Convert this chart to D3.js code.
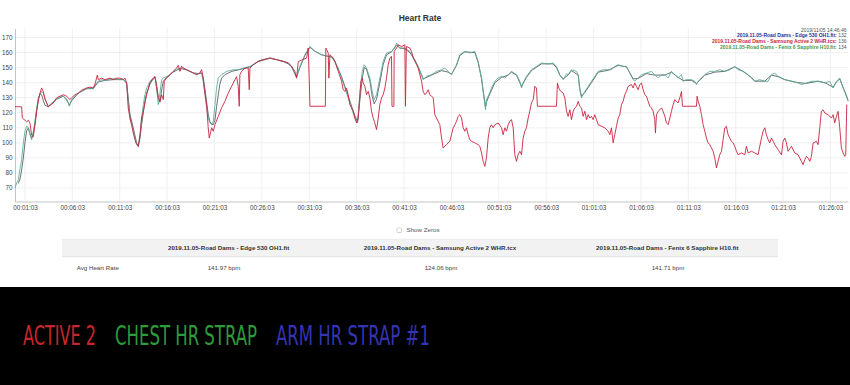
<!DOCTYPE html>
<html>
<head>
<meta charset="utf-8">
<script src="https://cdn.jsdelivr.net/npm/d3@7"></script>
<style>
  html, body { margin: 0; padding: 0; background: #fff; }
  svg { display: block; font-family: "Liberation Sans", Arial, sans-serif; }
</style>
</head>
<body>
<svg id="chart" width="850" height="385"></svg>
<script>
// file names / stats shown in legend + table
const fileNames = [
  "2019.11.05-Road Dams - Edge 530 OH1.fit",
  "2019.11.05-Road Dams - Samsung Active 2 WHR.tcx",
  "2019.11.05-Road Dams - Fenix 6 Sapphire H10.fit"
];
const lastHr = [132, 136, 134];
const avgHr = ["141.97 bpm", "124.06 bpm", "141.71 bpm"];
const stamp = "2019/11/05 14:46:46";

const yTicks = [70, 80, 90, 100, 110, 120, 130, 140, 150, 160, 170];
const xTickLabels = ["00:01:03", "00:06:03", "00:11:03", "00:16:03", "00:21:03", "00:26:03",
  "00:31:03", "00:36:03", "00:41:03", "00:46:03", "00:51:03", "00:56:03", "01:01:03",
  "01:06:03", "01:11:03", "01:16:03", "01:21:03", "01:26:03"];

const captions = ["ACTIVE 2", "CHEST HR STRAP", "ARM HR STRAP #1"];

// [elapsed minutes, bpm]
const samsungHr = [
  [0,124],[0.70,124],[0.77,116.5],[1.05,115],[1.23,114],[1.41,115],[1.58,113],[1.76,105],[1.93,104],
  [2.11,112],[2.29,121],[2.46,128],[2.64,133],[2.81,136.5],[2.99,134],[3.16,129],[3.34,126.5],[3.52,124],
  [3.69,125],[4.04,126.5],[4.40,130],[4.75,131],[5.10,132],[5.45,131],[5.80,128.7],[5.98,130],[6.33,132],
  [6.68,133],[7.03,135],[7.56,136.5],[7.91,137],[8.26,136.5],[8.44,139],[8.69,145],[8.79,142],[9.14,143],
  [9.49,142],[10.02,143],[10.37,142],[10.72,143],[11.08,143],[11.43,142],[11.60,143],[11.78,140],[11.95,123],
  [12.13,116.5],[12.31,112],[12.48,106.5],[12.76,100],[13.01,97.7],[13.19,105],[13.36,116.5],[13.54,121],
  [13.89,132],[14.24,140],[14.59,143],[14.77,144],[14.94,136.5],[15.12,130],[15.30,127.6],[15.47,132],
  [15.65,128.7],[15.75,141],[16.00,143],[16.35,145.3],[16.70,147.5],[17.05,149.7],[17.23,151.5],[17.41,147.5],
  [17.58,151],[17.76,149.7],[18.11,148.6],[18.46,147.5],[18.81,146.4],[19.16,145.3],[19.51,146.4],[19.69,148.6],
  [19.80,145.3],[19.97,136.4],[20.22,125.4],[20.39,110],[20.50,103.2],[20.75,110],[20.92,107.7],[21.10,112],
  [21.45,117.6],[21.80,123.2],[22.15,127.6],[22.50,133],[22.86,137.6],[23.21,142],[23.38,144],[23.56,137.6],
  [23.66,124.3],[23.73,145.3],[23.91,147.5],[24.26,149.7],[24.61,149.7],[24.72,135.3],[24.79,149.7],[25.14,152],
  [25.67,154.2],[26.20,155.3],[26.90,156.4],[27.60,155.3],[28.31,154.2],[28.83,153.1],[29.18,151],[29.53,147.5],
  [29.71,143],[29.89,154],[30.24,155],[30.77,156.4],[30.94,163],[31.05,142],[31.12,124.3],[32.75,124.3],
  [32.80,163],[32.88,162],[33.05,159.7],[33.12,143],[33.23,158.6],[33.58,156.4],[33.75,154.2],[34.11,147.5],
  [34.46,141],[34.63,135.3],[34.81,134.2],[34.98,136.4],[35.16,132],[35.34,125.4],[35.51,123.2],[35.69,121],
  [35.86,116.5],[36.04,113.2],[36.22,116.5],[36.39,132],[36.50,140.9],[36.64,143],[36.74,139.8],[36.92,137.6],
  [37.09,132],[37.27,134.2],[37.45,129.8],[37.62,121],[37.80,116.5],[37.97,113.2],[38.15,108.8],[38.33,116.5],
  [38.50,125.4],[38.68,129.8],[38.85,132],[39.03,136.4],[39.20,143],[39.38,151.9],[39.56,156.4],[39.73,157.5],
  [39.78,124.3],[39.98,124.3],[40.01,160.8],[40.26,163],[40.43,165.2],[40.79,164],[41.14,165.2],[41.20,124.3],
  [41.30,164],[41.67,163],[41.84,160.8],[42.02,156.4],[42.19,154.2],[42.37,152],[42.54,149.7],[42.72,145.3],
  [42.90,141],[43.07,134.2],[43.25,132],[43.42,133.1],[43.60,135.3],[43.77,132],[43.95,131],[44.13,130],
  [44.30,118.7],[44.48,116.5],[44.65,114.3],[44.83,112.1],[45.01,103.2],[45.18,96.6],[45.36,97.7],[45.53,98.8],
  [45.71,100],[45.89,101],[46.06,105.4],[46.24,110],[46.41,112],[46.59,114.3],[46.76,117.6],[46.94,118.7],
  [47.12,116.5],[47.29,110],[47.47,107.7],[47.64,110],[47.82,105.4],[48.00,102],[48.17,101],[48.52,100],
  [48.87,98.8],[49.05,97.7],[49.23,93.3],[49.40,87.7],[49.58,84.4],[49.75,90],[49.93,103.2],[50.10,110],
  [50.28,112],[50.46,110],[50.63,112],[50.98,113.2],[51.34,110],[51.51,105.4],[51.69,110],[51.86,107.7],
  [52.04,112],[52.21,114.3],[52.39,115.4],[52.57,110],[52.74,92.1],[52.92,87.7],[53.09,92.1],[53.27,94.4],
  [53.45,92.1],[53.62,103.2],[53.80,107.7],[53.97,110],[54.15,116.5],[54.32,121],[54.50,126.5],[54.68,128.7],
  [54.85,137.6],[55.03,136.4],[55.13,124.3],[57.14,124.3],[57.24,139.8],[57.38,136.4],[57.59,134.2],[57.84,133.1],
  [58.02,129.8],[58.20,121],[58.37,117.6],[58.55,122],[58.72,115.4],[58.90,121],[59.07,123.2],[59.25,124.3],
  [59.43,127.6],[59.60,124.3],[59.78,123.2],[59.95,117.6],[60.13,121],[60.31,115.4],[60.48,118.7],[60.66,116.5],
  [60.83,117.6],[61.01,115.4],[61.18,118.7],[61.36,115.4],[61.54,112.1],[61.89,111],[62.24,110],[62.59,107.7],
  [62.77,105.4],[62.94,110],[63.12,100],[63.29,105.4],[63.47,111],[63.65,116.5],[63.82,118.7],[64.00,125.4],
  [64.17,127.6],[64.35,132],[64.52,134.2],[64.70,137.6],[65.05,138.7],[65.23,136.4],[65.40,139.8],[65.58,137.6],
  [65.76,135.3],[65.93,138.7],[66.11,139.8],[66.28,135.3],[66.46,132],[66.63,131],[66.81,127.6],[66.99,124.3],
  [67.16,123.2],[67.34,121],[67.51,115.4],[67.58,106.5],[67.69,118.7],[67.87,121],[68.04,122],[68.22,123.2],
  [68.39,121],[68.57,117.6],[68.74,113.2],[68.92,112.1],[69.10,116.5],[69.27,121],[69.45,125.4],[69.62,128.7],
  [69.97,126.5],[70.15,129.8],[70.33,134.2],[70.43,124.3],[71.91,124.3],[71.98,131],[72.08,127.6],[72.26,124.3],
  [72.44,118.7],[72.61,112.1],[72.79,107.7],[72.96,103.2],[73.14,100],[73.31,98.8],[73.49,96.6],[73.67,94.4],
  [73.84,90],[74.02,83.3],[74.19,87.7],[74.37,92.1],[74.55,94.4],[74.72,102.1],[74.90,110],[75.07,111],
  [75.25,105.4],[75.42,103.2],[75.60,101],[75.78,100],[75.95,97.7],[76.13,94.4],[76.30,92.1],[76.66,93.3],
  [77.01,92.1],[77.18,97.7],[77.36,93.3],[77.71,94.4],[78.06,93.3],[78.41,92.1],[78.77,103.2],[78.94,107.7],
  [79.12,110],[79.29,105.4],[79.47,102.1],[79.64,100],[79.82,103.2],[80.00,101],[80.17,98.8],[80.52,95.5],
  [80.88,92.1],[81.05,101],[81.23,103.2],[81.40,100],[81.58,94.4],[81.93,97.7],[82.28,93.3],[82.63,92.1],
  [82.99,87.7],[83.16,85.5],[83.34,88.8],[83.51,91],[83.69,89.9],[83.87,87.7],[84.04,91],[84.22,99.9],
  [84.57,101],[84.74,98.8],[84.92,110],[85.09,120.9],[85.27,122],[85.45,119.8],[85.80,118.7],[86.15,116.5],
  [86.33,118.7],[86.50,113.2],[86.68,117.6],[86.85,120.9],[87.03,110],[87.20,96.6],[87.38,93.3],[87.56,91],
  [87.66,92.1],[87.77,125.4]
];

const fenixHr = [
  [0,70],[0.18,73.3],[0.35,75.5],[0.53,83],[0.70,88.8],[0.88,100],[1.05,107.7],[1.23,111],[1.41,110],
  [1.58,105.4],[1.76,102],[1.93,107.7],[2.11,114.3],[2.29,123.2],[2.46,129.8],[2.64,132],[2.81,134.2],[2.99,133],
  [3.16,129.8],[3.34,126.5],[3.52,124.3],[3.87,126.5],[4.40,129],[4.75,130.5],[5.10,131],[5.45,128],[5.63,126.5],
  [5.73,124.3],[5.98,128.7],[6.33,131],[6.68,133],[7.03,134.5],[7.56,136],[7.91,136.5],[8.26,136],[8.44,138.5],
  [8.79,141],[9.14,142],[9.49,141.5],[10.02,142.5],[10.72,142.5],[11.08,142],[11.43,142.5],[11.78,139],
  [11.95,127.6],[12.13,116.5],[12.48,107.7],[12.83,98.8],[13.01,98.8],[13.19,105.4],[13.36,116.5],[13.54,125.4],
  [13.71,132],[13.89,136.4],[14.24,140.9],[14.59,143.1],[14.77,144.2],[14.94,136.4],[15.12,125.4],[15.30,133.1],
  [15.47,142],[15.65,143.1],[16.00,144],[16.35,145.3],[16.70,147.5],[17.05,149],[17.41,149.5],[17.76,149.7],
  [18.11,148.6],[18.46,147.5],[18.81,146.4],[19.16,145.3],[19.51,146.4],[19.69,146.4],[19.87,140.9],[20.04,132],
  [20.22,123.2],[20.39,116.5],[20.57,113.2],[20.75,112.1],[20.92,114.3],[21.10,125.4],[21.27,136.4],[21.45,143.1],
  [21.80,145.3],[22.33,147.5],[23.03,148.6],[23.56,148.6],[24.09,149.7],[24.79,150.8],[25.14,152],[25.67,154.2],
  [26.20,155.3],[26.90,156.4],[27.60,155.3],[28.31,154.2],[28.83,153.1],[29.18,151],[29.71,143.1],[30.06,150.8],
  [30.59,158.6],[31.12,164.1],[31.64,160.8],[32.35,158.6],[32.88,157.5],[33.40,157.5],[33.75,154.2],[34.11,149.7],
  [34.46,143.1],[34.81,136.4],[35.16,129.8],[35.51,123.2],[35.86,116.5],[36.15,113.2],[36.39,132],[36.64,147.5],
  [36.85,151.9],[37.09,149.7],[37.45,143.1],[37.69,134.2],[37.90,128.7],[38.15,132],[38.50,143.1],[38.85,154.2],
  [39.20,159.7],[39.73,160.8],[40.08,163],[40.26,166.3],[40.61,163],[41.14,163],[41.67,160.8],[42.19,155.3],
  [42.54,150.8],[42.90,145.3],[43.07,142],[43.42,144.2],[43.95,145.3],[44.48,147.5],[45.01,148.6],[45.36,149.7],
  [45.71,147.5],[46.06,145.3],[46.59,151.9],[46.94,158.6],[47.47,160.8],[48.00,159.7],[48.52,160.8],[48.87,154.2],
  [49.23,143.1],[49.40,134.2],[49.51,128.7],[49.65,122],[49.75,128.7],[50.00,132],[50.28,136.4],[50.63,140.9],
  [50.98,143.1],[51.34,144.2],[51.69,143.1],[52.04,145.3],[52.39,147.5],[52.92,145.3],[53.27,140.9],[53.45,136.4],
  [53.62,139.8],[53.97,144.2],[54.50,148.6],[55.03,150.8],[55.55,153.1],[56.26,152.4],[56.79,153.1],[57.14,150.8],
  [57.49,145.3],[57.84,142],[58.20,146],[58.37,145.3],[58.72,148.6],[59.25,147.5],[59.43,145.3],[59.60,135.3],
  [59.78,129.8],[59.95,132],[60.13,134.2],[60.48,137.6],[60.83,140.9],[61.18,144.2],[61.54,147.5],[62.06,148.6],
  [62.59,148.6],[62.94,148.6],[63.29,150.8],[63.65,151.9],[64.17,150.8],[64.52,150.8],[64.88,146.4],[65.23,142],
  [65.40,140.9],[65.76,143.1],[66.11,145.3],[66.63,146.4],[67.16,147.5],[67.51,145.3],[67.87,143.1],[68.22,145.3],
  [68.57,145.3],[68.92,143.1],[69.27,147.5],[69.62,145.3],[69.97,143.1],[70.33,145.3],[70.50,140.9],[70.85,142],
  [71.38,142],[71.73,140.9],[71.91,138.7],[72.08,140.9],[72.44,143.1],[72.79,145.3],[73.31,147.5],[73.84,147.5],
  [74.37,148.6],[74.90,147.5],[75.42,148.6],[75.95,150.8],[76.30,148.6],[76.83,147.5],[77.36,145.3],[77.71,143.1],
  [78.06,140.9],[78.59,142],[79.12,140.9],[79.47,140.9],[79.82,145.3],[80.17,146.4],[80.52,144.2],[80.88,143.1],
  [81.23,142],[81.93,140.9],[82.63,139.8],[82.99,138.7],[83.51,139.8],[84.04,140.9],[84.74,140.9],[85.45,139.8],
  [85.97,140.9],[86.33,136.4],[86.68,140.9],[87.03,143.1],[87.20,139.8],[87.38,136.4],[87.73,132],[87.91,127.6]
];

const edgeHr = [
  [0.35,73],[0.53,76],[0.70,82],[0.88,90],[1.05,100],[1.23,108],[1.41,110],[1.58,106],[1.76,103],[1.93,106],
  [2.11,113],[2.29,122],[2.46,129],[2.64,133],[2.81,132],[2.99,128],[3.16,125],[3.52,124],[3.87,126],[4.40,129],
  [4.75,130],[5.10,131],[5.45,129],[5.73,125],[5.98,128],[6.68,133],[7.56,136],[8.26,136],[8.79,140.5],
  [9.49,141.5],[10.37,142],[11.08,142],[11.43,142],[11.78,140],[11.95,130],[12.13,119],[12.48,110],[12.83,100],
  [13.01,97.5],[13.19,103],[13.36,112],[13.54,120],[13.71,128],[13.89,133],[14.24,139],[14.59,142.5],
  [14.77,143.5],[14.94,139],[15.12,130],[15.30,127],[15.47,135],[15.65,141],[16.00,143.5],[16.70,147],
  [17.41,149.5],[18.11,148.5],[18.81,146.5],[19.51,146],[19.69,146.5],[19.87,143],[20.04,136],[20.22,127],
  [20.39,119],[20.57,114],[20.75,112.5],[20.92,112],[21.10,115],[21.27,124],[21.45,132],[21.62,139],[21.80,143],
  [22.15,145.3],[22.86,147.5],[23.56,148.5],[24.26,149.5],[24.79,150.5],[25.67,154],[26.90,156.2],[27.60,155.3],
  [28.31,154],[28.83,152.5],[29.18,150.5],[29.53,146],[29.71,144],[30.06,150],[30.59,158],[31.12,163.5],
  [31.64,161],[32.35,158.5],[33.40,157],[33.75,154],[34.46,144],[35.16,131],[35.86,118],[36.15,114],[36.39,128],
  [36.64,143],[36.85,150],[37.09,149],[37.45,141],[37.69,131],[37.90,126],[38.15,129],[38.50,140],[38.85,152],
  [39.20,158.5],[39.73,160.5],[40.26,165],[40.61,163],[41.14,162.5],[41.67,160],[42.19,155],[42.54,150.5],
  [42.90,145],[43.07,142.5],[43.95,145],[45.01,148],[45.71,147],[46.06,145.5],[46.59,151.5],[46.94,158],
  [47.47,160.5],[48.52,160],[48.87,153.5],[49.23,142.5],[49.51,130],[49.65,124],[49.75,127],[50.00,131],
  [50.63,140],[51.34,143.5],[52.04,145],[52.39,147],[52.92,145],[53.27,140],[53.45,137.5],[53.97,143.5],
  [54.50,148],[55.55,152.5],[56.79,152.5],[57.14,150],[57.49,145],[57.84,142.5],[58.37,145],[58.72,148],
  [59.43,145],[59.60,136],[59.78,131],[60.13,133.5],[60.83,140],[61.54,147],[62.59,148.2],[63.65,151.5],
  [64.52,150.5],[65.23,142.5],[65.76,142.8],[66.63,146],[67.51,145],[68.57,145],[69.27,147],[69.97,143.5],
  [70.50,141.5],[71.38,141.5],[71.91,139.5],[72.79,145],[73.84,147],[74.90,147.5],[75.95,150.5],[76.83,147.5],
  [77.71,143.5],[78.06,141],[79.12,141],[79.82,145],[80.52,144],[81.23,142],[82.63,140],[83.51,139.5],
  [84.74,141],[85.45,140],[86.33,137],[86.68,140.5],[87.03,142.5],[87.38,137],[87.73,131],[87.91,128]
];

const svg = d3.select("#chart");

const x = d3.scaleLinear().domain([0, 87.9]).range([15, 848]);
const y = d3.scaleLinear().domain([61, 176]).range([201.5, 28.5]);

// "hh:mm:ss" -> minutes
function toMin(s) {
  const p = s.split(":").map(Number);
  return p[0] * 60 + p[1] + p[2] / 60;
}
const xTickMin = xTickLabels.map(toMin);

// grid
const grid = svg.append("g").attr("stroke", "#ececec").attr("stroke-width", 0.8);
grid.selectAll(".h").data(yTicks).enter().append("line")
  .attr("x1", 15).attr("x2", 848)
  .attr("y1", d => y(d)).attr("y2", d => y(d));
grid.selectAll(".v").data(xTickMin).enter().append("line")
  .attr("x1", d => x(d)).attr("x2", d => x(d))
  .attr("y1", 28.5).attr("y2", 201.5);

// axes
const yAxis = svg.append("g")
  .attr("transform", "translate(15,0)")
  .call(d3.axisLeft(y).tickValues(yTicks).tickSize(0).tickPadding(2.5).tickSizeOuter(0));
const xAxis = svg.append("g")
  .attr("transform", "translate(0,201.5)")
  .call(d3.axisBottom(x).tickValues(xTickMin).tickFormat((d, i) => xTickLabels[i])
    .tickSize(0).tickPadding(4).tickSizeOuter(0));
[yAxis, xAxis].forEach(a => {
  a.select(".domain").attr("stroke", "#c4c4c4");
  a.selectAll("text").attr("fill", "#444").style("font-size", "6.3px")
    .style("font-family", "'Liberation Sans', Arial, sans-serif");
});

// lines (edge underneath, chest strap over it, samsung on top)
const line = d3.line().x(d => x(d[0])).y(d => y(d[1]));
svg.append("path").datum(edgeHr)
  .attr("fill", "none").attr("stroke", "#2a3344").attr("stroke-opacity", 0.7).attr("stroke-width", 1)
  .attr("stroke-linejoin", "round").attr("d", line);
svg.append("path").datum(fenixHr)
  .attr("fill", "none").attr("stroke", "#5aab8e").attr("stroke-opacity", 0.85).attr("stroke-width", 1)
  .attr("stroke-linejoin", "round").attr("d", line);
svg.append("path").datum(samsungHr)
  .attr("fill", "none").attr("stroke", "#c9243f").attr("stroke-width", 0.9)
  .attr("stroke-linejoin", "round").attr("d", line);

// title
svg.append("text").attr("x", 420).attr("y", 21).attr("text-anchor", "middle")
  .attr("font-size", 8.5).attr("font-weight", "bold").attr("fill", "#333").text("Heart Rate");

// legend, top right
const legendColors = ["#2b2f8f", "#c9243f", "#3e9a55"];
svg.append("text").attr("x", 846.5).attr("y", 31.5).attr("text-anchor", "end")
  .attr("font-size", 5).attr("fill", "#555").text(stamp);
const leg = svg.append("g").selectAll("text").data(fileNames).enter().append("text")
  .attr("x", 846.5).attr("y", (d, i) => 37.2 + i * 5.8).attr("text-anchor", "end")
  .attr("font-size", 5);
leg.append("tspan").attr("font-weight", "bold").attr("fill", (d, i) => legendColors[i]).text(d => d + ":");
leg.append("tspan").attr("fill", "#555").text((d, i) => " " + lastHr[i]);

// show zeros checkbox
svg.append("rect").attr("x", 397).attr("y", 228).attr("width", 4.5).attr("height", 4.5)
  .attr("rx", 0.8).attr("fill", "#fff").attr("stroke", "#aaa").attr("stroke-width", 0.5);
svg.append("text").attr("x", 406.5).attr("y", 232.3).attr("font-size", 6.2).attr("fill", "#555")
  .text("Show Zeros");

// stats table
const colCenters = [228.7, 440, 667.3];
const valCenters = [224, 441, 668];
svg.append("rect").attr("x", 62).attr("y", 239.3).attr("width", 716).attr("height", 17.4).attr("fill", "#f2f2f2");
svg.append("line").attr("x1", 62).attr("x2", 778).attr("y1", 239.3).attr("y2", 239.3).attr("stroke", "#e4e4e4").attr("stroke-width", 0.6);
svg.append("line").attr("x1", 62).attr("x2", 778).attr("y1", 256.7).attr("y2", 256.7).attr("stroke", "#dcdcdc").attr("stroke-width", 0.8);
svg.append("g").selectAll("text").data(fileNames).enter().append("text")
  .attr("x", (d, i) => colCenters[i]).attr("y", 250).attr("text-anchor", "middle")
  .attr("font-size", 6.2).attr("font-weight", "bold").attr("fill", "#333").text(d => d);
svg.append("text").attr("x", 76.7).attr("y", 269.5).attr("font-size", 6.2).attr("fill", "#444").text("Avg Heart Rate");
svg.append("g").selectAll("text").data(avgHr).enter().append("text")
  .attr("x", (d, i) => valCenters[i]).attr("y", 269.5).attr("text-anchor", "middle")
  .attr("font-size", 6.2).attr("fill", "#444").text(d => d);

// black caption band
svg.append("rect").attr("x", 0).attr("y", 287).attr("width", 850).attr("height", 98).attr("fill", "#000");
const capX = [23, 115, 276];
const capW = [73, 142, 154];
const capColors = ["#c8262e", "#2e9a3c", "#3434b2"];
svg.append("g").selectAll("text").data(captions).enter().append("text")
  .attr("font-size", 26)
  .style("font-family", "'Liberation Sans Narrow', 'DejaVu Sans Condensed', 'Liberation Sans', sans-serif")
  .attr("fill", (d, i) => capColors[i]).text(d => d)
  .attr("transform", function(d, i) {
    // squeeze horizontally to the width the caption has in the picture
    const w = this.getComputedTextLength();
    return `translate(${capX[i]},345) scale(${capW[i] / w},1)`;
  });
</script>
</body>
</html>
